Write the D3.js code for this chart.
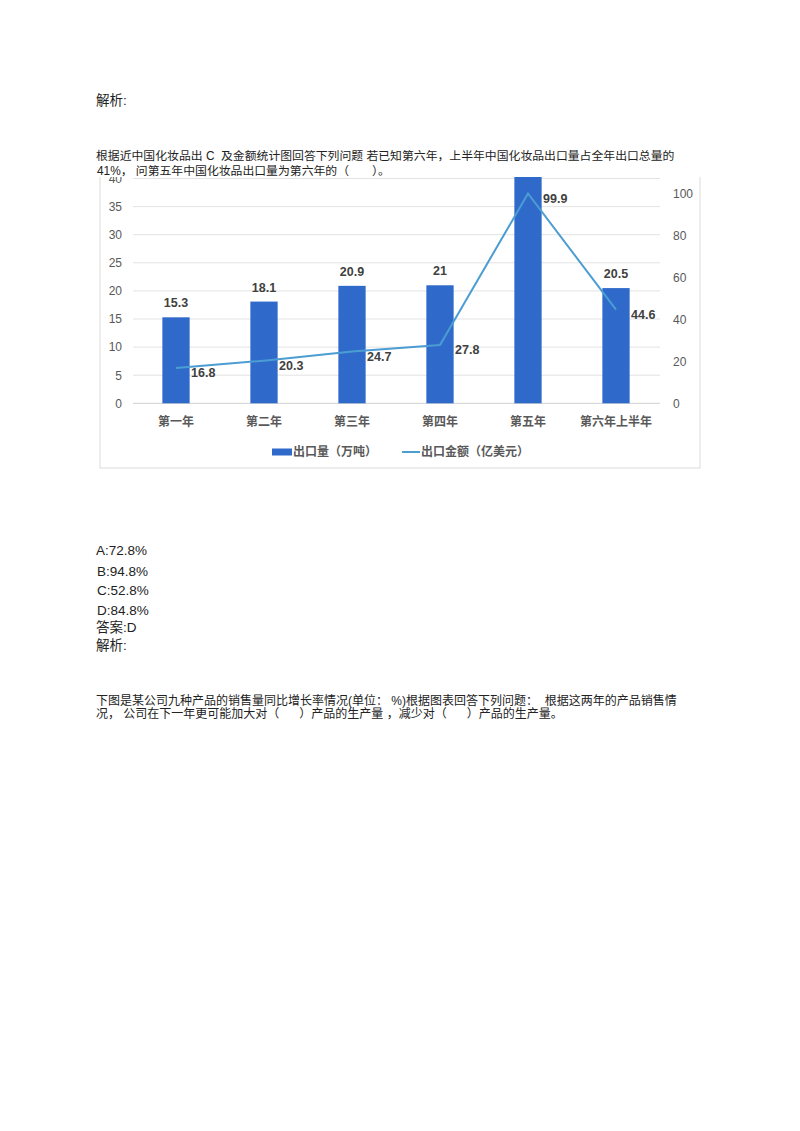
<!DOCTYPE html>
<html>
<head>
<meta charset="utf-8">
<script src="https://cdn.jsdelivr.net/npm/d3@7"></script>
<style>
  body { margin: 0; background: #fff; }
  text { white-space: pre; }
</style>
</head>
<body>
<script>
var years = ['第一年', '第二年', '第三年', '第四年', '第五年', '第六年上半年'];
var volume = [15.3, 18.1, 20.9, 21, 42.4, 20.5];   // 出口量（万吨）
var amount = [16.8, 20.3, 24.7, 27.8, 99.9, 44.6]; // 出口金额（亿美元）
var leftTicks = [0, 5, 10, 15, 20, 25, 30, 35, 40];
var rightTicks = [0, 20, 40, 60, 80, 100];
var legendNames = ['出口量（万吨）', '出口金额（亿美元）'];

var pageText = [
    {t: '解析:', x: 96, y: 105, s: 13.5},
    {t: '根据近中国化妆品出 C  及金额统计图回答下列问题 若已知第六年，上半年中国化妆品出口量占全年出口总量的', x: 96, y: 160, s: 11.85},
    {t: '41%， 问第五年中国化妆品出口量为第六年的（       ）。', x: 97, y: 175, s: 11.85},
    {t: 'A:72.8%', x: 96, y: 555, s: 13.5},
    {t: 'B:94.8%', x: 97, y: 575.5, s: 13.5},
    {t: 'C:52.8%', x: 97, y: 595, s: 13.5},
    {t: 'D:84.8%', x: 97, y: 615, s: 13.5},
    {t: '答案:D', x: 96, y: 632, s: 13.5},
    {t: '解析:', x: 96, y: 650, s: 13.5},
    {t: '下图是某公司九种产品的销售量同比增长率情况(单位： %)根据图表回答下列问题：  根据这两年的产品销售情', x: 96, y: 705, s: 12},
    {t: '况， 公司在下一年更可能加大对（      ）产品的生产量 ，减少对（      ）产品的生产量。', x: 96, y: 717.5, s: 12}
];

var fontFam = '"Liberation Sans", "Noto Sans CJK SC", sans-serif';
var barColor = '#2f6acb', lineColor = '#4b9dd2';

var svg = d3.select('body').append('svg')
    .attr('width', 800)
    .attr('height', 1131);

svg.selectAll('.para')
    .data(pageText)
    .enter()
    .append('text')
    .attr('class', 'para')
    .attr('x', function(d) { return d.x; })
    .attr('y', function(d) { return d.y; })
    .attr('font-size', function(d) { return d.s; })
    .attr('font-family', fontFam)
    .attr('fill', '#222')
    .text(function(d) { return d.t; });

// chart picture, its top edge is cut off under the question
svg.append('clipPath').attr('id', 'cut')
    .append('rect')
    .attr('x', 98).attr('y', 177)
    .attr('width', 604).attr('height', 292);

var chart = svg.append('g').attr('clip-path', 'url(#cut)');

chart.append('path')
    .attr('d', 'M100,177V468H700V177')
    .attr('fill', 'none')
    .attr('stroke', '#e8e8e8')
    .attr('stroke-width', 1.5);

var x = d3.scaleBand()
    .domain(years)
    .range([132, 660])
    .paddingInner(0.69)
    .paddingOuter(0.345);

var yL = d3.scaleLinear().domain([0, 40]).range([403.3, 178.5]);
var yR = d3.scaleLinear().domain([0, 100]).range([403.3, 193.3]);

chart.selectAll('.grid')
    .data(leftTicks)
    .enter()
    .append('line')
    .attr('class', 'grid')
    .attr('x1', 133).attr('x2', 660)
    .attr('y1', function(d) { return yL(d); })
    .attr('y2', function(d) { return yL(d); })
    .attr('stroke', function(d) { return d == 0 ? '#d0d0d0' : '#e3e3e3'; })
    .attr('stroke-width', 1);

var leftAxis = chart.append('g')
    .attr('transform', 'translate(122,0)')
    .call(d3.axisLeft(yL).tickValues(leftTicks).tickSize(0).tickPadding(0));
var rightAxis = chart.append('g')
    .attr('transform', 'translate(673,0)')
    .call(d3.axisRight(yR).tickValues(rightTicks).tickSize(0).tickPadding(0));
var bottomAxis = chart.append('g')
    .attr('transform', 'translate(0,417)')
    .call(d3.axisBottom(x).tickSize(0).tickPadding(0));

[leftAxis, rightAxis, bottomAxis].forEach(function(a) {
    a.select('.domain').remove();
    a.selectAll('text')
        .attr('font-family', fontFam)
        .attr('font-size', 12)
        .attr('fill', '#595959');
});
bottomAxis.selectAll('text').attr('font-weight', 'bold').attr('dy', '0.71em');

chart.selectAll('.bar')
    .data(volume)
    .enter()
    .append('rect')
    .attr('class', 'bar')
    .attr('x', function(d, i) { return x(years[i]); })
    .attr('y', function(d) { return yL(d); })
    .attr('width', x.bandwidth())
    .attr('height', function(d) { return yL(0) - yL(d); })
    .attr('fill', barColor);

chart.selectAll('.barLabel')
    .data(volume)
    .enter()
    .append('text')
    .attr('class', 'barLabel')
    .attr('x', function(d, i) { return x(years[i]) + x.bandwidth() / 2; })
    .attr('y', function(d) { return yL(d) - 10; })
    .attr('text-anchor', 'middle')
    .attr('font-family', fontFam)
    .attr('font-size', 12.5)
    .attr('font-weight', 'bold')
    .attr('fill', '#404040')
    .text(function(d) { return d; });

var line = d3.line()
    .x(function(d, i) { return x(years[i]) + x.bandwidth() / 2; })
    .y(function(d) { return yR(d); });

chart.append('path')
    .datum(amount)
    .attr('d', line)
    .attr('fill', 'none')
    .attr('stroke', lineColor)
    .attr('stroke-width', 2);

chart.selectAll('.lineLabel')
    .data(amount)
    .enter()
    .append('text')
    .attr('class', 'lineLabel')
    .attr('x', function(d, i) { return x(years[i]) + x.bandwidth() / 2 + 15; })
    .attr('y', function(d) { return yR(d) + 5; })
    .attr('dy', '0.35em')
    .attr('font-family', fontFam)
    .attr('font-size', 12.5)
    .attr('font-weight', 'bold')
    .attr('fill', '#404040')
    .text(function(d) { return d; });

// legend
var legend = chart.append('g').attr('transform', 'translate(0,452)');
legend.append('rect')
    .attr('x', 272).attr('y', -3.5)
    .attr('width', 20).attr('height', 7)
    .attr('fill', barColor);
legend.append('line')
    .attr('x1', 402).attr('x2', 420)
    .attr('stroke', lineColor)
    .attr('stroke-width', 2);
legend.selectAll('.legText')
    .data(legendNames)
    .enter()
    .append('text')
    .attr('class', 'legText')
    .attr('x', function(d, i) { return i == 0 ? 293 : 421; })
    .attr('dy', '0.35em')
    .attr('font-family', fontFam)
    .attr('font-size', 12)
    .attr('font-weight', 'bold')
    .attr('fill', '#595959')
    .text(function(d) { return d; });
</script>
</body>
</html>
